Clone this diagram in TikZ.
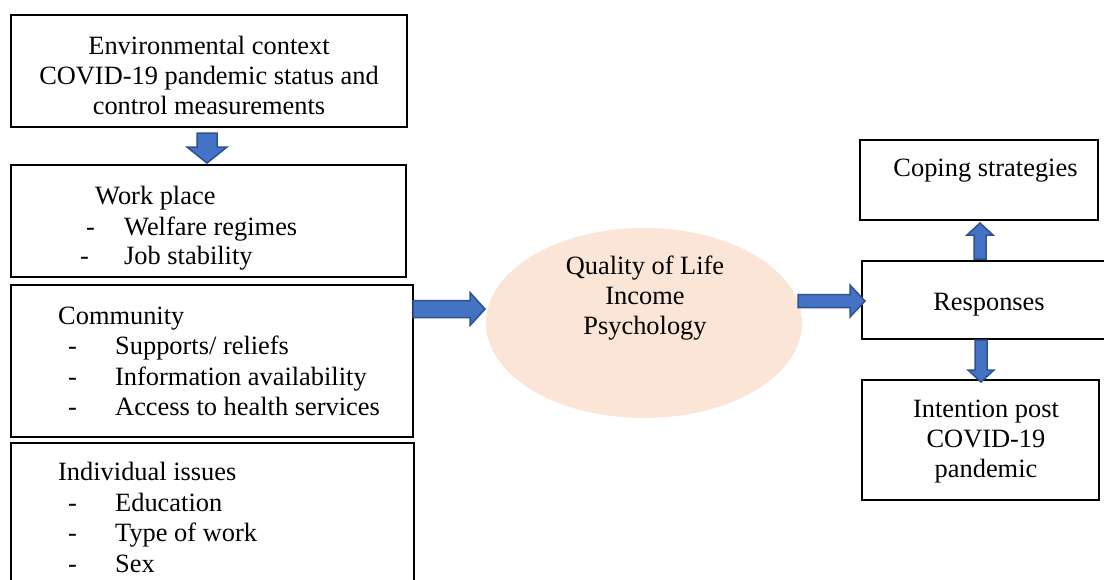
\documentclass[tikz,border=0pt]{standalone}
\usepackage{fontspec}
\setmainfont{Liberation Serif}
\usetikzlibrary{shapes.geometric}
\definecolor{arrowfill}{HTML}{4472C4}
\definecolor{arrowline}{HTML}{2F528F}
\definecolor{peach}{HTML}{FBE5D6}
\newcommand\vbarrow[6]{%
  \filldraw[barrow] ({#1-#5},#2) -- ({#1+#5},#2) -- ({#1+#5},#3) -- ({#1+#6},#3) -- (#1,#4) -- ({#1-#6},#3) -- ({#1-#5},#3) -- cycle;}
\newcommand\hbarrow[6]{%
  \filldraw[barrow] (#2,{#1-#5}) -- (#3,{#1-#5}) -- (#3,{#1-#6}) -- (#4,#1) -- (#3,{#1+#6}) -- (#3,{#1+#5}) -- (#2,{#1+#5}) -- cycle;}
\begin{document}
\begin{tikzpicture}[x=1pt,y=-1pt,
  box/.style={draw=black,line width=2pt,inner sep=0pt},
  txt/.style={inner sep=0pt,font=\fontsize{26.4pt}{30pt}\selectfont},
  ltxt/.style={txt,anchor=base west},
  ctxt/.style={txt,align=center},
  barrow/.style={fill=arrowfill,draw=arrowline,line width=1.5pt,line join=miter}]
\useasboundingbox (0,0) rectangle (1104,579);
\fill[white] (0,0) rectangle (1104,579);
% boxes
\node[box,minimum width=396pt,minimum height=112pt] (env) at (209,71) {};
\node[box,minimum width=395pt,minimum height=112pt] (work) at (208.5,221) {};
\node[box,minimum width=402pt,minimum height=152pt] (comm) at (212,361) {};
\node[box,minimum width=403pt,minimum height=157pt] (indiv) at (212.5,521.5) {};
\node[ellipse,fill=peach,inner sep=0pt,minimum width=316pt,minimum height=190pt] (qol) at (644,323) {};
\node[box,minimum width=238pt,minimum height=80pt] (coping) at (979,180) {};
\node[box,minimum width=248pt,minimum height=78pt] (resp) at (986,300) {};
\node[box,minimum width=237pt,minimum height=120pt] (intent) at (980.5,440) {};
% texts
\node[ctxt] (tenv) at (209,75) {Environmental context\\COVID-19 pandemic status and\\control measurements};
\node[ltxt] (tw0) at (95,204) {Work place};
\node[ltxt] (tw1) at (86,235) {-};
\node[ltxt] (tw2) at (124,235) {Welfare regimes};
\node[ltxt] (tw3) at (80,264) {-};
\node[ltxt] (tw4) at (124,264) {Job stability};
\node[ltxt] (tc0) at (58,324) {Community};
\node[ltxt] (tc1) at (68,354) {-};
\node[ltxt] (tc2) at (115,354) {Supports/ reliefs};
\node[ltxt] (tc3) at (68,385) {-};
\node[ltxt] (tc4) at (115,385) {Information availability};
\node[ltxt] (tc5) at (68,415) {-};
\node[ltxt] (tc6) at (115,415) {Access to health services};
\node[ltxt] (ti0) at (58,480) {Individual issues};
\node[ltxt] (ti1) at (68,511) {-};
\node[ltxt] (ti2) at (115,511) {Education};
\node[ltxt] (ti3) at (68,541) {-};
\node[ltxt] (ti4) at (115,541) {Type of work};
\node[ltxt] (ti5) at (68,572) {-};
\node[ltxt] (ti6) at (115,572) {Sex};
\node[ctxt] (tq) at (645,298) {Quality of Life\\Income\\Psychology};
\node[txt,anchor=base] (tcop) at (985.5,176) {Coping strategies};
\node[txt,anchor=base] (tres) at (989,310) {Responses};
\node[ctxt] (tint) at (986,442) {Intention post\\COVID-19\\pandemic};
% block arrows
\vbarrow{207}{133}{147}{163}{10}{20}
\hbarrow{309}{413}{470}{485}{8.5}{16.5}
\hbarrow{301}{798}{850}{865}{6.5}{16}
\vbarrow{980}{259}{235}{223}{6}{13}
\vbarrow{981}{340}{370}{382}{6}{13}
\end{tikzpicture}
\end{document}
